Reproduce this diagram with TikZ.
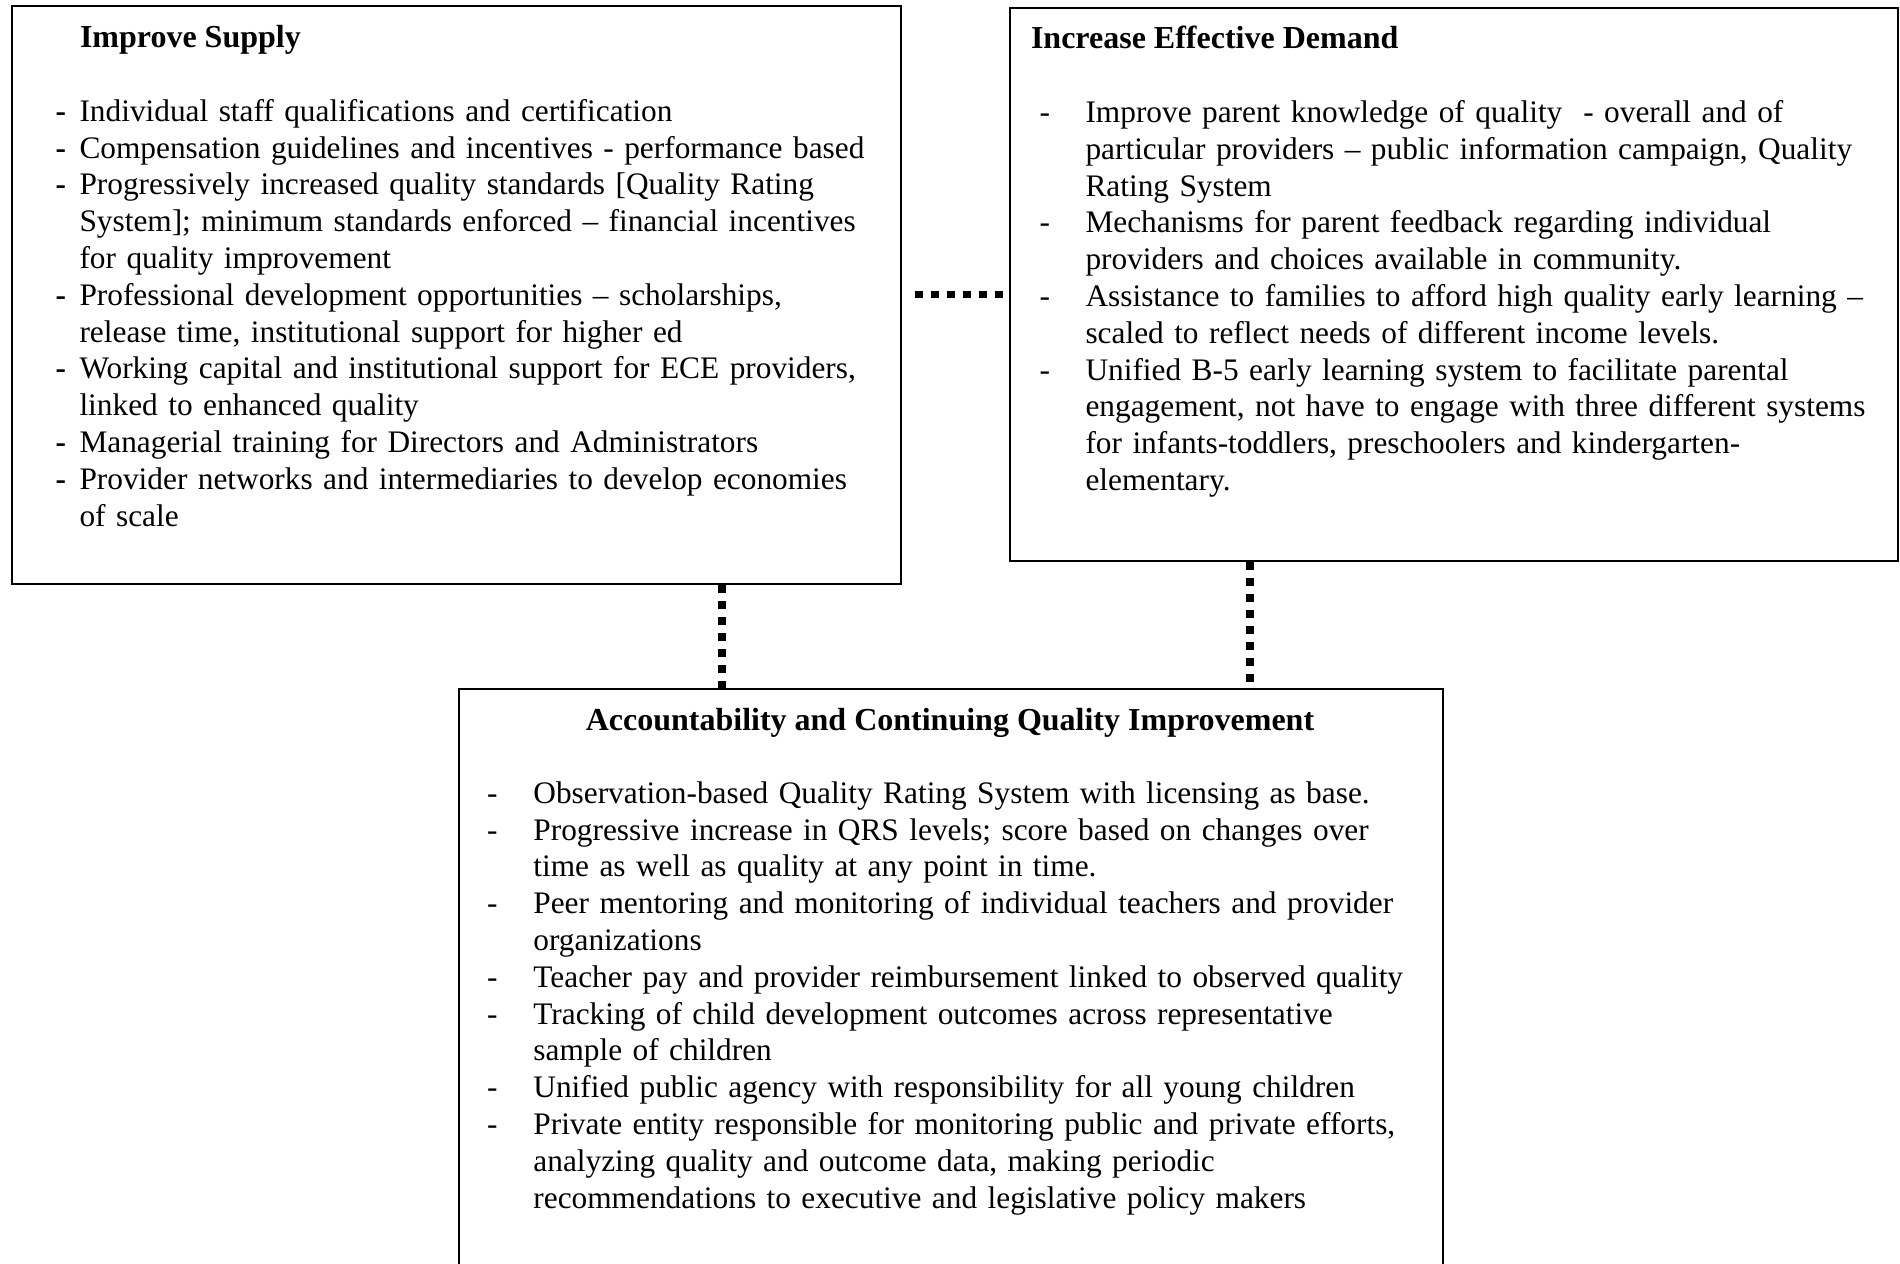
\documentclass[tikz,border=0pt]{standalone}
\usepackage{tikz}
\usepackage{fontspec}
\setmainfont{Liberation Serif}

\newlength{\dashw}
\newcommand{\dl}{\makebox[\dashw][l]{-}}
\newcommand{\bdl}{\makebox[\dashw][l]{\textbf{-}}}
\newcommand{\cl}{\hspace*{\dashw}}

\begin{document}
\begin{tikzpicture}[x=0.375pt,y=-0.375pt,
    box/.style={draw, line width=0.75pt, anchor=north west, inner sep=0pt},
    head/.style={anchor=base west, inner sep=0pt, font=\fontsize{12}{13.8}\selectfont\bfseries},
    list/.style={anchor=base west, inner sep=0pt, text width=#1, align=left, font=\fontsize{11.75}{13.8}\selectfont},
    link/.style={line width=2.8pt, dash pattern=on 2.8125pt off 3.1875pt}]

\path[use as bounding box, clip] (0,0) rectangle (1900,1264);

\node[box, minimum width=333.4pt, minimum height=216.75pt] (S) at (11,5) {};
\node[box, minimum width=333pt, minimum height=207.4pt] (E) at (1009,7) {};
\node[box, minimum width=369pt, minimum height=262.5pt] (Q) at (458,688) {};

\node[head] (St) at (79.5,47.5) {Improve Supply};
\node[list=400pt] (Sl) at (55,121.2) {\setlength{\dashw}{9pt}%
\bdl Individual staff qualifications and certification\\
\bdl Compensation guidelines and incentives - performance based\\
\bdl Progressively increased quality standards [Quality Rating\\
\cl System]; minimum standards enforced – financial incentives\\
\cl for quality improvement\\
\bdl Professional development opportunities – scholarships,\\
\cl release time, institutional support for higher ed\\
\bdl Working capital and institutional support for ECE providers,\\
\cl linked to enhanced quality\\
\bdl Managerial training for Directors and Administrators\\
\bdl Provider networks and intermediaries to develop economies\\
\cl of scale};

\node[head] (Et) at (1030.5,48.5) {Increase Effective Demand};
\node[list=400pt] (El) at (1039,122.4) {\setlength{\dashw}{17.25pt}%
\dl Improve parent knowledge of quality\ \ - overall and of\\
\cl particular providers – public information campaign, Quality\\
\cl Rating System\\
\dl Mechanisms for parent feedback regarding individual\\
\cl providers and choices available in community.\\
\dl Assistance to families to afford high quality early learning –\\
\cl scaled to reflect needs of different income levels.\\
\dl Unified B-5 early learning system to facilitate parental\\
\cl engagement, not have to engage with three different systems\\
\cl for infants-toddlers, preschoolers and kindergarten-\\
\cl elementary.};

\node[head, anchor=base] (Qt) at (950,730.4) {Accountability and Continuing Quality Improvement};
\node[list=400pt] (Ql) at (486.5,803.2) {\setlength{\dashw}{17.4pt}%
\dl Observation-based Quality Rating System with licensing as base.\\
\dl Progressive increase in QRS levels; score based on changes over\\
\cl time as well as quality at any point in time.\\
\dl Peer mentoring and monitoring of individual teachers and provider\\
\cl organizations\\
\dl Teacher pay and provider reimbursement linked to observed quality\\
\dl Tracking of child development outcomes across representative\\
\cl sample of children\\
\dl Unified public agency with responsibility for all young children\\
\dl Private entity responsible for monitoring public and private efforts,\\
\cl analyzing quality and outcome data, making periodic\\
\cl recommendations to executive and legislative policy makers};

% dotted links
\coordinate (h) at (0,294.5);
\coordinate (v1) at (722,0);
\coordinate (v2) at (1250,0);
\draw[link, shorten <=4.9pt, shorten >=2.25pt] (S.east |- h) -- (E.west |- h);
\draw[link] (S.south -| v1) -- (Q.north -| v1);
\draw[link] (E.south -| v2) -- (Q.north -| v2);

\end{tikzpicture}
\end{document}
